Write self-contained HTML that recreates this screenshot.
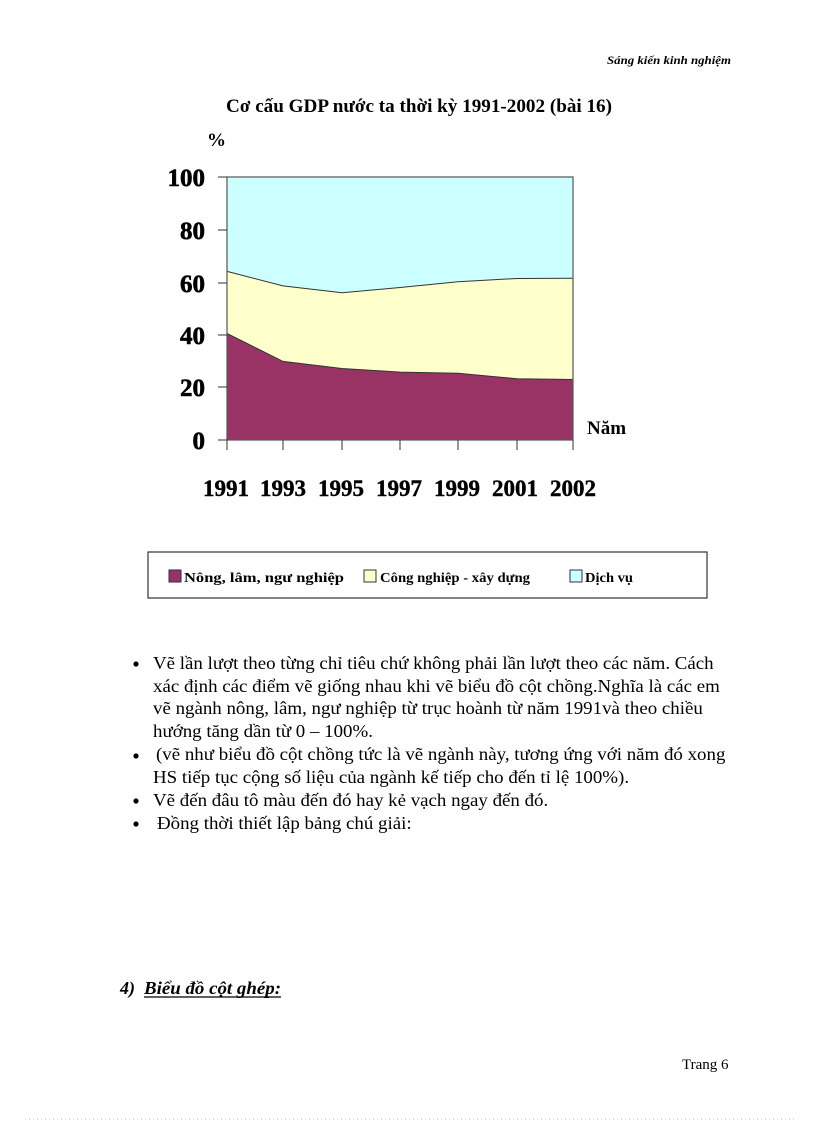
<!DOCTYPE html>
<html><head><meta charset="utf-8"><style>
html,body{margin:0;padding:0;background:#fff}
svg{display:block;position:absolute;left:0;top:0}
text{font-family:"Liberation Serif",serif}
.l{position:absolute;white-space:nowrap;font-family:"Liberation Serif",serif;font-size:17.5px;line-height:20px;color:#000;transform:scaleX(1.08);transform-origin:0 0}
</style></head><body>
<svg width="816" height="1123" viewBox="0 0 816 1123" xmlns="http://www.w3.org/2000/svg">
<text x="731" y="64" text-anchor="end" font-size="12" font-weight="bold" font-style="italic" textLength="124" lengthAdjust="spacingAndGlyphs">Sáng kiến kinh nghiệm</text>
<text x="226" y="112" font-size="19" font-weight="bold" textLength="386" lengthAdjust="spacingAndGlyphs">Cơ cấu GDP nước ta thời kỳ 1991-2002 (bài 16)</text>
<text x="207" y="146" font-size="19" font-weight="bold">%</text>
<rect x="227" y="177" width="346" height="263" fill="#ccffff"/>
<polygon points="227,271.4 283,285.9 342,292.7 400,287.5 458,281.7 517,278.5 573,278.3 573,440 227,440" fill="#ffffcc"/>
<polygon points="227,333.5 283,361.4 342,368.5 400,372.1 458,373.2 517,378.7 573,379.5 573,440 227,440" fill="#993366"/>
<polyline points="227,271.4 283,285.9 342,292.7 400,287.5 458,281.7 517,278.5 573,278.3" fill="none" stroke="#333" stroke-width="1"/>
<polyline points="227,333.5 283,361.4 342,368.5 400,372.1 458,373.2 517,378.7 573,379.5" fill="none" stroke="#333" stroke-width="1"/>
<rect x="227" y="177" width="346" height="263" fill="none" stroke="#555" stroke-width="1.2"/>
<g stroke="#333" stroke-width="1">
<line x1="218" y1="177" x2="227" y2="177"/><line x1="218" y1="230" x2="227" y2="230"/><line x1="218" y1="283" x2="227" y2="283"/><line x1="218" y1="335" x2="227" y2="335"/><line x1="218" y1="387" x2="227" y2="387"/><line x1="218" y1="440" x2="227" y2="440"/>
<line x1="227" y1="440" x2="227" y2="450"/><line x1="283" y1="440" x2="283" y2="450"/><line x1="342" y1="440" x2="342" y2="450"/><line x1="400" y1="440" x2="400" y2="450"/><line x1="458" y1="440" x2="458" y2="450"/><line x1="517" y1="440" x2="517" y2="450"/><line x1="573" y1="440" x2="573" y2="450"/>
</g>
<g font-size="25" font-weight="bold" text-anchor="end" stroke="#000" stroke-width="0.6">
<text x="205" y="186">100</text><text x="205" y="239">80</text><text x="205" y="292">60</text><text x="205" y="344">40</text><text x="205" y="396">20</text><text x="205" y="449">0</text>
</g>
<text x="587" y="434" font-size="19" font-weight="bold">Năm</text>
<g font-size="23" font-weight="bold" text-anchor="middle" stroke="#000" stroke-width="0.4">
<text x="226" y="496">1991</text><text x="283" y="496">1993</text><text x="341" y="496">1995</text><text x="399" y="496">1997</text><text x="457" y="496">1999</text><text x="515" y="496">2001</text><text x="573" y="496">2002</text>
</g>
<rect x="148" y="552" width="559" height="46" fill="#fff" stroke="#333" stroke-width="1.2"/>
<rect x="169" y="570" width="12" height="12" fill="#993366" stroke="#333"/>
<text x="184" y="582" font-size="14" font-weight="bold" textLength="160" lengthAdjust="spacingAndGlyphs">Nông, lâm, ngư nghiệp</text>
<rect x="364" y="570" width="12" height="12" fill="#ffffcc" stroke="#333"/>
<text x="380" y="582" font-size="14" font-weight="bold" textLength="150" lengthAdjust="spacingAndGlyphs">Công nghiệp - xây dựng</text>
<rect x="570" y="570" width="12" height="12" fill="#ccffff" stroke="#333"/>
<text x="585" y="582" font-size="14" font-weight="bold" textLength="48" lengthAdjust="spacingAndGlyphs">Dịch vụ</text>
<circle cx="136" cy="664" r="2.6" fill="#000"/>
<circle cx="136" cy="756" r="2.6" fill="#000"/>
<circle cx="136" cy="801" r="2.6" fill="#000"/>
<circle cx="136" cy="824" r="2.6" fill="#000"/>
<text x="120" y="994" font-size="18" font-weight="bold" font-style="italic">4)</text>
<text x="144" y="994" font-size="18" font-weight="bold" font-style="italic" textLength="137" lengthAdjust="spacingAndGlyphs">Biểu đồ cột ghép:</text>
<line x1="144" y1="997" x2="281" y2="997" stroke="#000" stroke-width="1.2"/>
<text x="682" y="1069" font-size="15">Trang 6</text>
<line x1="25" y1="1119" x2="795" y2="1119" stroke="#bbb" stroke-width="1" stroke-dasharray="1,3"/>
</svg>
<div class="l" style="left:153px;top:653px">Vẽ lần lượt theo từng chỉ tiêu chứ không phải lần lượt theo các năm. Cách</div>
<div class="l" style="left:153px;top:676px">xác định các điểm vẽ giống nhau khi vẽ biểu đồ cột chồng.Nghĩa là các em</div>
<div class="l" style="left:153px;top:698px">vẽ ngành nông, lâm, ngư nghiệp từ trục hoành từ năm 1991và theo chiều</div>
<div class="l" style="left:153px;top:721px">hướng tăng dần từ 0 – 100%.</div>
<div class="l" style="left:156px;top:744px">(vẽ như biểu đồ cột chồng tức là vẽ ngành này, tương ứng với năm đó xong</div>
<div class="l" style="left:153px;top:767px">HS tiếp tục cộng số liệu  của ngành kế tiếp cho đến tỉ lệ 100%).</div>
<div class="l" style="left:153px;top:790px">Vẽ đến đâu tô màu đến đó hay kẻ vạch ngay đến đó.</div>
<div class="l" style="left:157px;top:813px">Đồng thời thiết lập bảng chú giải:</div>
</body></html>
